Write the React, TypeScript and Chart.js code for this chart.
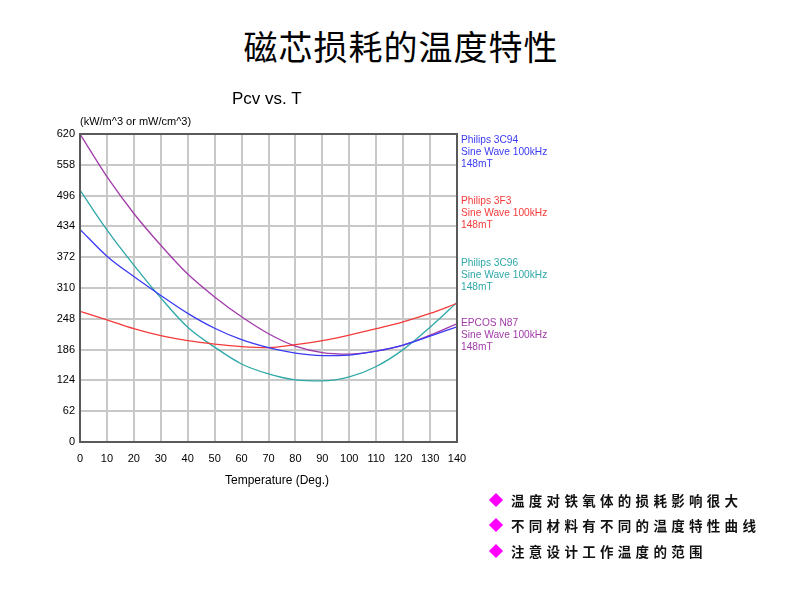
import React, { useEffect, useRef } from "react";
import { Chart, registerables } from "chart.js";

Chart.register(...registerables);

const temperatures = [0, 10, 20, 30, 40, 50, 60, 70, 80, 90, 100, 110, 120, 130, 140];
const philips3C94 = [428, 374, 333, 295, 259, 229, 206, 190, 179, 174, 175, 183, 195, 213, 232];
const philips3F3 = [263, 246, 228, 214, 204, 197, 192, 190, 196, 204, 215, 228, 242, 259, 279];
const philips3C96 = [507, 427, 356, 290, 231, 191, 157, 137, 125, 123, 131, 152, 186, 231, 281];
const epcosN87 = [620, 534, 460, 396, 338, 292, 252, 218, 193, 180, 177, 183, 195, 215, 238];

const seriesNames = ["Philips 3C94", "Philips 3F3", "Philips 3C96", "EPCOS N87"];
const seriesColors = ["#3a3af5", "#f53a3a", "#2fa8a8", "#a23aaa"];
const seriesSub = ["Sine Wave 100kHz", "148mT"];
const labelTops = [134, 195, 257, 317];

const bullets = [
  "温度对铁氧体的损耗影响很大",
  "不同材料有不同的温度特性曲线",
  "注意设计工作温度的范围",
];

const sans = "'Liberation Sans', Arial, sans-serif";
const cjk = "'Noto Sans CJK SC', sans-serif";

export default function App() {
  const ref = useRef<HTMLCanvasElement | null>(null);

  useEffect(() => {
    if (!ref.current) return;
    const all = [philips3C94, philips3F3, philips3C96, epcosN87];
    const boxPlugin = {
      id: "box",
      afterDraw(chart: any) {
        const { ctx, chartArea } = chart;
        ctx.save();
        ctx.strokeStyle = "#5a5a5a";
        ctx.lineWidth = 2;
        ctx.strokeRect(chartArea.left, chartArea.top, chartArea.right - chartArea.left, chartArea.bottom - chartArea.top);
        ctx.restore();
      },
    };
    const chart = new Chart(ref.current, {
      type: "line",
      data: {
        datasets: all.map((vals, i) => ({
          label: seriesNames[i],
          data: temperatures.map((t, j) => ({ x: t, y: vals[j] })),
          borderColor: seriesColors[i],
          borderWidth: 1.3,
          pointRadius: 0,
          cubicInterpolationMode: "monotone" as const,
          fill: false,
        })),
      },
      options: {
        animation: false,
        responsive: false,
        layout: { padding: { left: 0, right: 328, top: 134, bottom: 119 } },
        plugins: { legend: { display: false }, tooltip: { enabled: false }, title: { display: false } },
        scales: {
          x: {
            type: "linear",
            min: 0,
            max: 140,
            afterFit: (s: any) => { s.height = 30; },
            ticks: { stepSize: 10, autoSkip: false, maxRotation: 0, padding: 10, color: "#000", font: { family: sans, size: 11 } },
            grid: { color: "#c8c8c8", lineWidth: 2, drawTicks: false },
            border: { color: "#5a5a5a", width: 2 },
          },
          y: {
            type: "linear",
            min: 0,
            max: 620,
            afterFit: (s: any) => { s.width = 80; },
            ticks: { stepSize: 62, autoSkip: false, padding: 5, color: "#000", font: { family: sans, size: 11 } },
            grid: { color: "#c8c8c8", lineWidth: 2, drawTicks: false },
            border: { color: "#5a5a5a", width: 2 },
          },
        },
      },
      plugins: [boxPlugin],
    });
    return () => chart.destroy();
  }, []);

  return (
    <div style={{ position: "fixed", left: 0, top: 0, width: 785, height: 591, background: "#fff", overflow: "hidden" }}>
      <div style={{ position: "absolute", left: 0, top: 26, width: 802, textAlign: "center", fontFamily: cjk, fontSize: 34, letterSpacing: 1, lineHeight: "40px", color: "#000" }}>
        磁芯损耗的温度特性
      </div>
      <canvas ref={ref} width={785} height={591} style={{ position: "absolute", left: 0, top: 0, width: 785, height: 591 }} />
      <div style={{ position: "absolute", left: 232, top: 89, fontFamily: sans, fontSize: 17, lineHeight: "20px", color: "#000" }}>Pcv vs. T</div>
      <div style={{ position: "absolute", left: 80, top: 114, fontFamily: sans, fontSize: 11, lineHeight: "14px", color: "#000" }}>(kW/m^3 or mW/cm^3)</div>
      <div style={{ position: "absolute", left: 225, top: 472, fontFamily: sans, fontSize: 12, lineHeight: "16px", color: "#000" }}>Temperature (Deg.)</div>
      {seriesNames.map((n, i) => (
        <div key={n} style={{ position: "absolute", left: 461, top: labelTops[i], fontFamily: sans, fontSize: 10.2, lineHeight: "12.2px", color: seriesColors[i] }}>
          <div>{n}</div>
          <div>{seriesSub[0]}</div>
          <div>{seriesSub[1]}</div>
        </div>
      ))}
      {bullets.map((b, i) => (
        <div key={b} style={{ position: "absolute", left: 488, top: 490 + i * 25.3, height: 20, display: "flex", alignItems: "center" }}>
          <div style={{ width: 10, height: 10, background: "#ff00ff", transform: "rotate(45deg)", marginLeft: 3, marginRight: 10 }} />
          <div style={{ fontFamily: cjk, fontSize: 13.5, fontWeight: 700, letterSpacing: 4.3, color: "#111", whiteSpace: "nowrap" }}>{b}</div>
        </div>
      ))}
    </div>
  );
}
